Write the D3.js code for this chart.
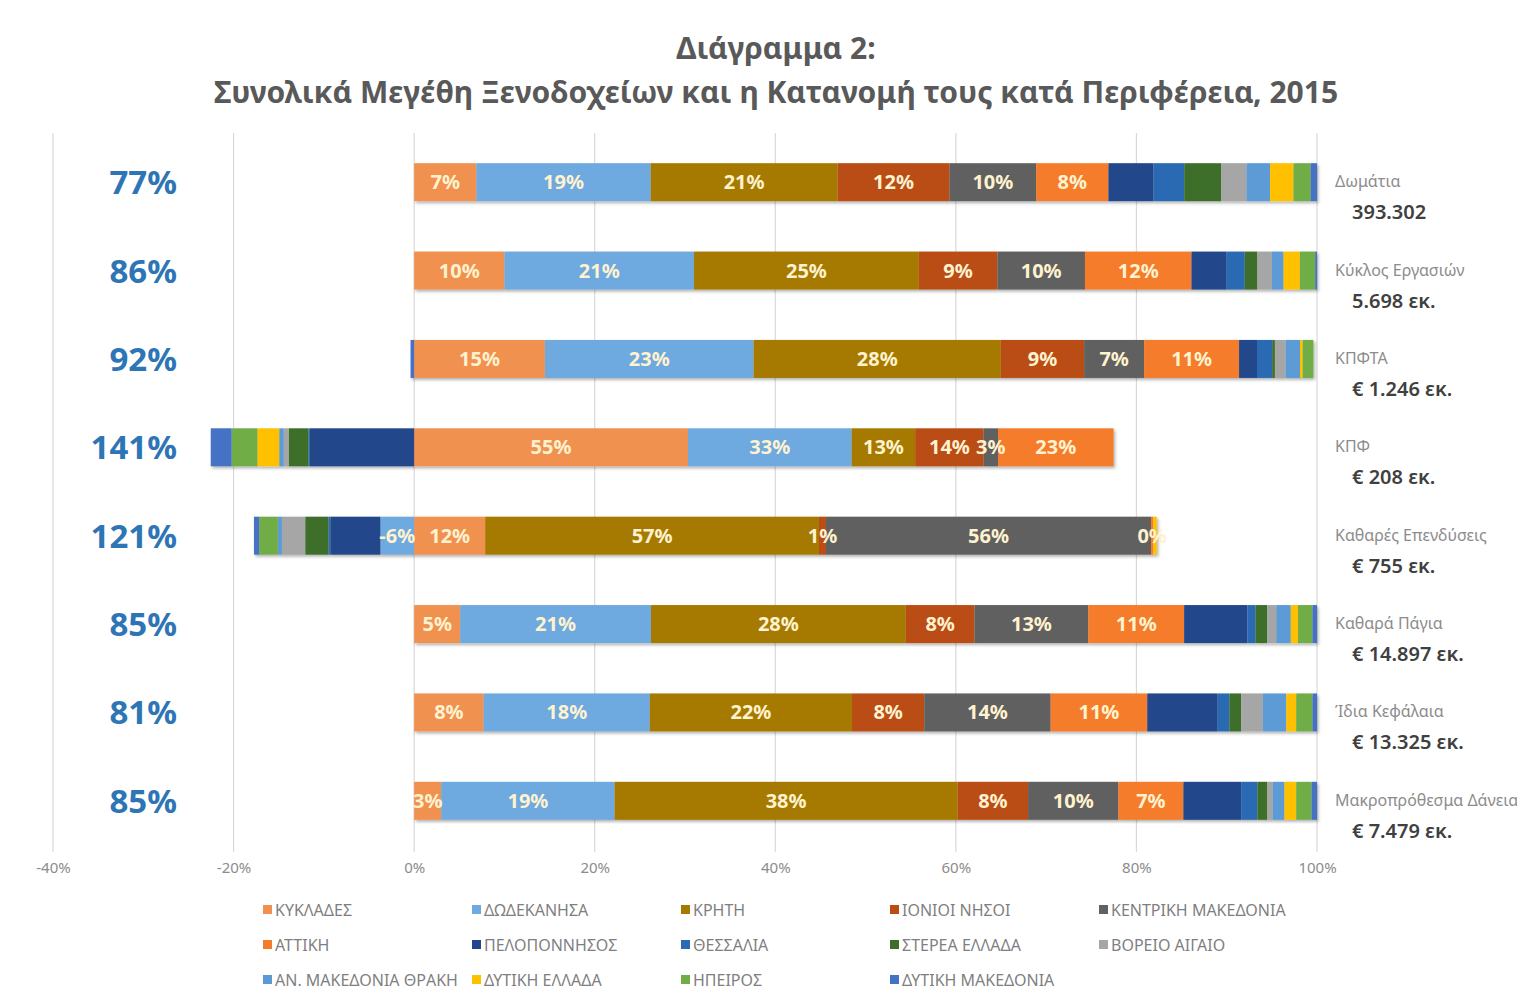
<!DOCTYPE html>
<html>
<head>
<meta charset="utf-8">
<title>Διάγραμμα 2</title>
<script src="https://cdn.jsdelivr.net/npm/d3@7"></script>
<style>
  html, body { margin: 0; padding: 0; background: #fff; }
  #chart { width: 1517px; height: 997px; overflow: hidden; }
</style>
</head>
<body>
<div id="chart"></div>
<script>
// region series, in stacking order
var regions = ['ΚΥΚΛΑΔΕΣ', 'ΔΩΔΕΚΑΝΗΣΑ', 'ΚΡΗΤΗ', 'ΙΟΝΙΟΙ ΝΗΣΟΙ', 'ΚΕΝΤΡΙΚΗ ΜΑΚΕΔΟΝΙΑ',
  'ΑΤΤΙΚΗ', 'ΠΕΛΟΠΟΝΝΗΣΟΣ', 'ΘΕΣΣΑΛΙΑ', 'ΣΤΕΡΕΑ ΕΛΛΑΔΑ', 'ΒΟΡΕΙΟ ΑΙΓΑΙΟ',
  'ΑΝ. ΜΑΚΕΔΟΝΙΑ ΘΡΑΚΗ', 'ΔΥΤΙΚΗ ΕΛΛΑΔΑ', 'ΗΠΕΙΡΟΣ', 'ΔΥΤΙΚΗ ΜΑΚΕΔΟΝΙΑ'];

var colors = ['#F1914F', '#6EA9DF', '#A67A00', '#BA4E12', '#616161',
  '#F47B2C', '#22478A', '#2A6BB3', '#3E6E29', '#A6A6A6',
  '#5B9BD5', '#FFC000', '#70AD47', '#4472C4'];

// measures (rows), top to bottom
var measures = ['Δωμάτια', 'Κύκλος Εργασιών', 'ΚΠΦΤΑ', 'ΚΠΦ', 'Καθαρές Επενδύσεις',
  'Καθαρά Πάγια', 'Ίδια Κεφάλαια', 'Μακροπρόθεσμα Δάνεια'];
var totals = ['393.302', '5.698 εκ.', '€ 1.246 εκ.', '€ 208 εκ.', '€ 755 εκ.',
  '€ 14.897 εκ.', '€ 13.325 εκ.', '€ 7.479 εκ.'];

// share of each region (%), same order as regions
var rooms       = [6.9, 19.3, 20.7, 12.4, 9.6, 8.0, 5.0, 3.4, 4.1, 2.8, 2.6, 2.6, 1.9, 0.7];
var turnover    = [10.0, 21.0, 24.9, 8.7, 9.7, 11.8, 3.9, 2.0, 1.4, 1.6, 1.3, 1.8, 1.7, 0.2];
var ebitda      = [14.6, 23.3, 27.6, 9.3, 6.7, 10.6, 2.0, 1.7, 0.3, 1.2, 1.6, 0.3, 1.2, -0.4];
var profit      = [55.2, 33.0, 12.8, 13.8, 2.9, 23.3, -21.0, -0.3, -4.0, -1.0, -0.9, -4.4, -5.2, -4.2];
var netInvest   = [12.2, -5.8, 57.3, 1.2, 55.8, 0.4, -8.6, -0.3, -4.0, -4.0, -0.7, 0.6, -3.2, -0.9];
var fixedAssets = [5.1, 21.1, 28.2, 7.6, 12.6, 10.6, 7.0, 0.9, 1.3, 1.0, 1.6, 0.8, 1.6, 0.5];
var equity      = [7.7, 18.4, 22.4, 8.0, 14.0, 10.7, 7.8, 1.3, 1.3, 2.4, 2.6, 1.1, 1.8, 0.5];
var loans       = [3.0, 19.2, 38.0, 7.8, 10.0, 7.2, 6.4, 1.8, 1.1, 0.6, 1.3, 1.3, 1.7, 0.6];

var rowValues = [rooms, turnover, ebitda, profit, netInvest, fixedAssets, equity, loans];

// how many of the first regions get labels / are summed on the left
var labelled = 6;

var xTicks = [-0.4, -0.2, 0, 0.2, 0.4, 0.6, 0.8, 1.0];

(function() {

  var width = 1517;
  var height = 997;

  var svg = d3.select('#chart')
    .append('svg')
    .attr('width', width)
    .attr('height', height)
    .style('font-family', '"Noto Sans", "Open Sans", sans-serif');

  // soft shadow like the office bars
  var defs = svg.append('defs');
  defs.append('filter')
    .attr('id', 'shadow')
    .attr('x', '-5%').attr('y', '-20%')
    .attr('width', '110%').attr('height', '150%')
    .append('feDropShadow')
    .attr('dx', 1.5).attr('dy', 2)
    .attr('stdDeviation', 1.5)
    .attr('flood-color', '#000')
    .attr('flood-opacity', 0.3);

  // title
  svg.append('text')
    .attr('x', 776).attr('y', 59)
    .attr('text-anchor', 'middle')
    .attr('fill', '#595959')
    .style('font-size', '30px')
    .style('font-weight', 'bold')
    .text('Διάγραμμα 2:');

  svg.append('text')
    .attr('x', 776).attr('y', 103)
    .attr('text-anchor', 'middle')
    .attr('fill', '#595959')
    .style('font-size', '30px')
    .style('font-weight', 'bold')
    .text('Συνολικά Μεγέθη Ξενοδοχείων και η Κατανομή τους κατά Περιφέρεια, 2015');

  // each row normalised by the sum of absolute values (100% stacked bar)
  var table = rowValues.map(function(vals, i) {
    var abs = d3.sum(vals, function(v) { return Math.abs(v); });
    var row = { measure: measures[i] };
    vals.forEach(function(v, j) {
      row[regions[j]] = v / abs;
      row['raw' + j] = v;
    });
    return row;
  });

  var stack = d3.stack()
    .keys(regions)
    .offset(d3.stackOffsetDiverging);
  var series = stack(table);

  var xScale = d3.scaleLinear()
    .domain([-0.4, 1.0])
    .range([53, 1317]);

  var yScale = d3.scaleBand()
    .domain(measures)
    .range([138, 845])
    .paddingInner(0.57)
    .paddingOuter(0.285);

  // gridlines
  svg.append('g')
    .selectAll('line')
    .data(xTicks)
    .enter()
    .append('line')
    .attr('x1', function(d) { return xScale(d); })
    .attr('x2', function(d) { return xScale(d); })
    .attr('y1', 133)
    .attr('y2', 852)
    .attr('stroke', '#D9D9D9')
    .attr('stroke-width', 1.2);

  // x axis labels
  var xAxis = d3.axisBottom(xScale)
    .tickValues(xTicks)
    .tickSize(0)
    .tickPadding(10)
    .tickFormat(function(d) { return Math.round(d * 100) + '%'; });

  svg.append('g')
    .attr('transform', 'translate(0, ' + 852 + ')')
    .call(xAxis)
    .call(function(g) { g.select('.domain').remove(); })
    .selectAll('.tick>text')
    .each(function(d, i) {
      d3.select(this)
        .style('font-size', '15px')
        .style('font-family', '"Noto Sans", sans-serif')
        .attr('fill', '#8C8C8C');
    });

  // bars
  var layers = svg.append('g')
    .attr('filter', 'url(#shadow)')
    .selectAll('g')
    .data(series)
    .enter()
    .append('g')
    .attr('fill', function(d, i) { return colors[i]; });

  layers.selectAll('rect')
    .data(function(d) { return d; })
    .enter()
    .append('rect')
    .attr('x', function(d) { return xScale(d[0]); })
    .attr('y', function(d) { return yScale(d.data.measure); })
    .attr('width', function(d) { return Math.max(0, xScale(d[1]) - xScale(d[0])); })
    .attr('height', yScale.bandwidth());

  // data labels on the first regions
  var labelLayers = svg.append('g')
    .selectAll('g')
    .data(series.slice(0, labelled))
    .enter()
    .append('g');

  labelLayers.selectAll('text')
    .data(function(d) {
      return d.map(function(p) { return { p: p, key: d.index }; });
    })
    .enter()
    .append('text')
    .attr('x', function(d) { return (xScale(d.p[0]) + xScale(d.p[1])) / 2; })
    .attr('y', function(d) { return yScale(d.p.data.measure) + yScale.bandwidth() / 2 + 7; })
    .attr('text-anchor', 'middle')
    .attr('fill', '#FFF2CF')
    .style('font-size', '20px')
    .style('font-weight', 'bold')
    .text(function(d) { return Math.round(d.p.data['raw' + d.key]) + '%'; });

  // share of the six main regions, left
  svg.append('g')
    .selectAll('text')
    .data(rowValues)
    .enter()
    .append('text')
    .attr('x', 177)
    .attr('y', function(d, i) { return yScale(measures[i]) + yScale.bandwidth() / 2 + 12; })
    .attr('text-anchor', 'end')
    .attr('fill', '#2E75B6')
    .style('font-size', '33px')
    .style('font-weight', 'bold')
    .text(function(d) { return Math.round(d3.sum(d.slice(0, labelled))) + '%'; });

  // measure names and totals, right
  var right = svg.append('g')
    .selectAll('g')
    .data(measures)
    .enter()
    .append('g')
    .attr('transform', function(d) {
      return 'translate(0, ' + (yScale(d) + yScale.bandwidth() / 2) + ')';
    });

  right.append('text')
    .attr('x', 1335)
    .attr('y', 5)
    .attr('fill', '#8C8C8C')
    .style('font-size', '16px')
    .text(function(d) { return d; });

  right.append('text')
    .attr('x', 1352)
    .attr('y', 37)
    .attr('fill', '#404040')
    .style('font-size', '20px')
    .style('font-weight', '600')
    .text(function(d, i) { return totals[i]; });

  // legend, 5 columns
  var legend = svg.append('g')
    .selectAll('g')
    .data(regions)
    .enter()
    .append('g')
    .attr('transform', function(d, i) {
      var col = i % 5, row = Math.floor(i / 5);
      return 'translate(' + (263 + col * 209) + ', ' + (910 + row * 35) + ')';
    });

  legend.append('rect')
    .attr('x', 0).attr('y', -5)
    .attr('width', 9).attr('height', 9)
    .attr('fill', function(d, i) { return colors[i]; });

  legend.append('text')
    .attr('x', 12)
    .attr('y', 5.5)
    .attr('fill', '#7F7F7F')
    .style('font-size', '16px')
    .text(function(d) { return d; });

})();
</script>
</body>
</html>
